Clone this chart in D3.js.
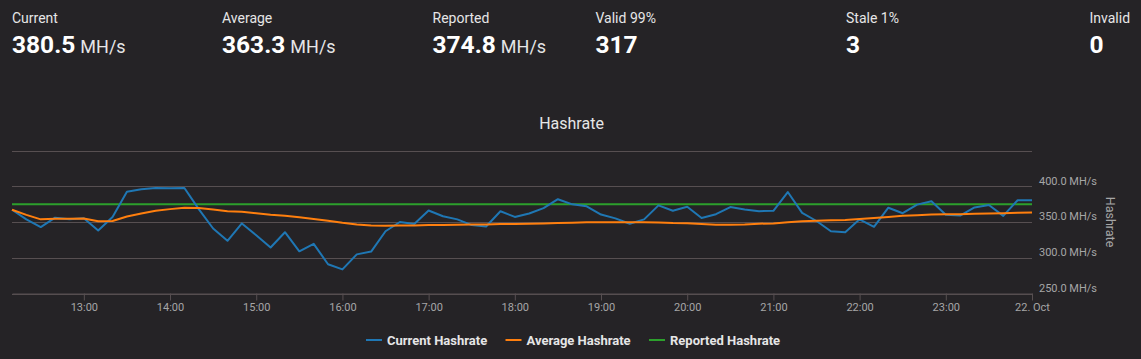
<!DOCTYPE html>
<html>
<head>
<meta charset="utf-8">
<script src="https://cdn.jsdelivr.net/npm/d3@7"></script>
<style>
  html, body { margin: 0; padding: 0; background: #252326; }
  svg { display: block; font-family: Roboto, "Noto Sans", sans-serif; }
</style>
</head>
<body>
<svg id="chart" width="1141" height="359"></svg>
<script>
// ---- data ----
const stats = [
  { label: "Current",   value: "380.5", unit: "MH/s", x: 12 },
  { label: "Average",   value: "363.3", unit: "MH/s", x: 222 },
  { label: "Reported",  value: "374.8", unit: "MH/s", x: 432.5 },
  { label: "Valid 99%", value: "317",   unit: "",     x: 595.5 },
  { label: "Stale 1%",  value: "3",     unit: "",     x: 846 },
  { label: "Invalid",   value: "0",     unit: "",     x: 1089.5 }
];
const startTime = new Date(2021, 9, 21, 12, 10);  // first sample
const stepMinutes = 10;
const currentHashrate = [
  367.1, 353.7, 342.9, 356.1, 353.7, 355.1, 338.0, 357.1, 392.3, 395.7,
  397.6, 397.1, 397.6, 368.0, 340.9, 323.7, 348.0, 331.4, 314.3, 335.7,
  309.0, 319.4, 290.9, 283.7, 304.7, 308.6, 337.1, 350.0, 347.1, 366.1,
  358.0, 353.7, 345.7, 343.7, 365.1, 357.1, 361.9, 369.4, 381.9, 374.7,
  371.9, 360.4, 355.1, 347.6, 353.7, 373.3, 365.7, 371.4, 355.7, 360.9,
  370.9, 367.6, 365.1, 365.7, 391.9, 362.8, 351.4, 337.1, 335.7, 353.7,
  343.3, 370.0, 362.3, 374.3, 379.0, 360.0, 359.0, 370.4, 373.7, 358.6,
  380.4, 380.5
];
const averageHashrate = [
  367.1, 360.0, 353.7, 354.4, 354.4, 355.0, 351.0, 351.4, 357.6, 361.9,
  365.7, 368.0, 370.0, 369.5, 367.6, 365.1, 364.3, 362.3, 360.0, 358.6,
  356.6, 354.3, 351.9, 349.0, 346.6, 345.2, 344.7, 345.2, 345.2, 345.7,
  345.7, 346.2, 346.6, 346.6, 347.1, 347.1, 347.6, 348.0, 348.5, 349.0,
  349.5, 349.5, 349.5, 349.5, 349.5, 349.3, 348.5, 348.2, 347.1, 346.2,
  346.2, 346.6, 347.6, 348.0, 349.5, 350.9, 351.9, 352.4, 352.9, 354.3,
  355.7, 357.1, 358.6, 359.5, 360.5, 361.0, 361.0, 361.4, 361.9, 362.4,
  362.9, 363.3
];
const reportedHashrate = currentHashrate.map(() => 374.8);
const yTicks = [250, 300, 350, 400, 450];
const yTickLabels = ["250.0 MH/s", "300.0 MH/s", "350.0 MH/s", "400.0 MH/s", ""];
const xTickLabels = ["13:00", "14:00", "15:00", "16:00", "17:00", "18:00",
                     "19:00", "20:00", "21:00", "22:00", "23:00", "22. Oct"];
const seriesNames = ["Current Hashrate", "Average Hashrate", "Reported Hashrate"];
const seriesColors = ["#1f77b4", "#ff7f0e", "#2ca02c"];

// ---- build ----
const times = currentHashrate.map((_, i) => new Date(startTime.getTime() + i * stepMinutes * 60000));
const xTickTimes = xTickLabels.map((_, i) => new Date(2021, 9, 21, 13 + i, 0));

const svg = d3.select("#chart");
const W = 1141;

// header stats
const hdr = svg.append("g");
stats.forEach(s => {
  hdr.append("text").attr("x", s.x).attr("y", 22.5)
    .attr("fill", "#e6e6e6").attr("font-size", 14).text(s.label);
  const t = hdr.append("text").attr("x", s.x).attr("y", 52.5).attr("fill", "#ffffff");
  t.append("tspan").attr("font-size", 24.5).attr("font-weight", 700).text(s.value);
  if (s.unit) t.append("tspan").attr("font-size", 18).attr("dx", 5).attr("fill", "#e6e6e6").text(s.unit);
});

// title
svg.append("text").attr("x", W / 2 + 1).attr("y", 129).attr("text-anchor", "middle")
  .attr("fill", "#e6e6e6").attr("font-size", 16).text("Hashrate");

const x = d3.scaleTime()
  .domain([startTime, new Date(2021, 9, 22, 0, 0)])
  .range([12, 1032]);
const y = d3.scaleLinear().domain([250, 450]).range([293.5, 150.5]);

const gridColor = "#574f51";

// grid lines
svg.append("g").selectAll("line").data(yTicks).join("line")
  .attr("x1", 12).attr("x2", 1032)
  .attr("y1", d => Math.round(y(d)) + 0.5).attr("y2", d => Math.round(y(d)) + 0.5)
  .attr("stroke", gridColor).attr("stroke-width", 1);

// y labels (right)
svg.append("g").selectAll("text").data(yTicks).join("text")
  .attr("x", 1039).attr("y", d => y(d) - 1.6)
  .attr("fill", "#a6a6a6").attr("font-size", 11)
  .text((d, i) => yTickLabels[i]);

// y-axis title
svg.append("text").attr("transform", "translate(1106,222) rotate(90)")
  .attr("text-anchor", "middle").attr("fill", "#a6a6a6").attr("font-size", 12.5)
  .text("Hashrate");

// x axis
const xAxis = d3.axisBottom(x).tickValues(xTickTimes)
  .tickFormat((d, i) => xTickLabels[i]).tickSize(7).tickSizeOuter(0);
const gx = svg.append("g").attr("transform", "translate(0,293.5)").call(xAxis);
gx.select(".domain").attr("stroke", gridColor);
gx.selectAll(".tick line").attr("stroke", gridColor);
gx.selectAll(".tick text").attr("fill", "#a6a6a6").attr("font-size", 11)
  .attr("font-family", "Roboto, sans-serif").attr("dy", "0.71em").attr("y", 10);

// lines
const line = d3.line().x((d, i) => x(times[i])).y(d => y(d));
const series = [currentHashrate, averageHashrate, reportedHashrate];
const order = [2, 0, 1];
order.forEach(k => {
  svg.append("path").datum(series[k]).attr("d", line)
    .attr("fill", "none").attr("stroke", seriesColors[k])
    .attr("stroke-width", 2).attr("stroke-linejoin", "round");
});

// legend
const legendX = [366, 505.5, 649];
const lg = svg.append("g");
seriesNames.forEach((n, i) => {
  lg.append("line").attr("x1", legendX[i]).attr("x2", legendX[i] + 16)
    .attr("y1", 340).attr("y2", 340).attr("stroke", seriesColors[i]).attr("stroke-width", 2);
  lg.append("text").attr("x", legendX[i] + 21).attr("y", 344.5)
    .attr("fill", "#e6e6e6").attr("font-size", 13).attr("font-weight", 700).text(n);
});
</script>
</body>
</html>
